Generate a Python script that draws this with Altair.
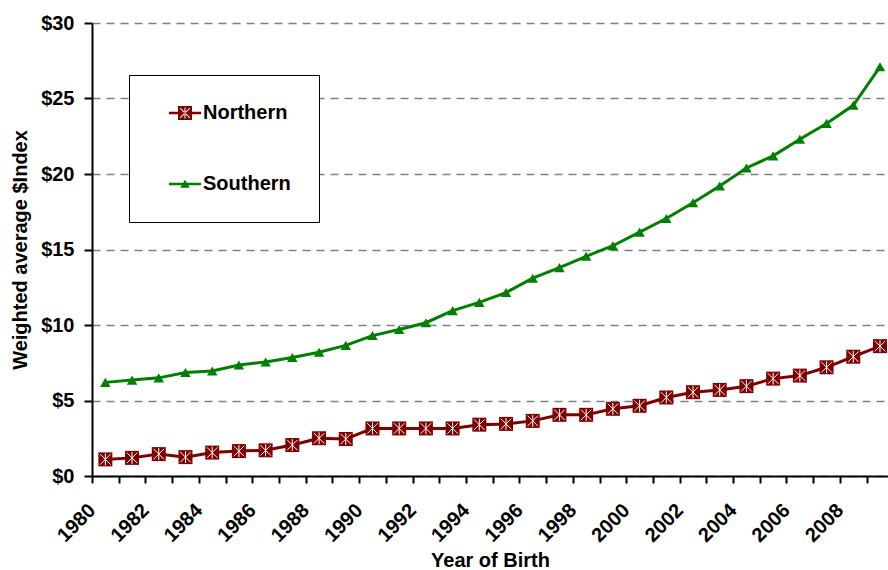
import altair as alt
import pandas as pd

# Birth years on the category axis
years = list(range(1980, 2010))

# Weighted average $Index by year of birth
northern = [1.1, 1.2, 1.45, 1.25, 1.55, 1.65, 1.7, 2.05, 2.5, 2.45,
            3.15, 3.15, 3.15, 3.15, 3.4, 3.45, 3.65, 4.05, 4.05, 4.45,
            4.65, 5.2, 5.55, 5.7, 5.95, 6.45, 6.65, 7.2, 7.9, 8.6]
southern = [6.2, 6.35, 6.5, 6.85, 6.95, 7.35, 7.55, 7.85, 8.2, 8.65,
            9.3, 9.7, 10.15, 10.95, 11.5, 12.15, 13.1, 13.8, 14.55, 15.25,
            16.15, 17.05, 18.1, 19.2, 20.4, 21.2, 22.3, 23.35, 24.55, 27.1]

series_names = ["Northern", "Southern"]
series_colors = ["#800000", "#008000"]
y_ticks = [0, 5, 10, 15, 20, 25, 30]

df = pd.DataFrame({
    "year": years * 2,
    "series": [series_names[0]] * len(years) + [series_names[1]] * len(years),
    "value": northern + southern,
})

FONT = "Liberation Sans"
FS = 20

# Marker glyphs (unit-box SVG paths)
ASTERISK = "M-0.75,-0.75L0.75,0.75M-0.75,0.75L0.75,-0.75M0,-0.85V0.85"
# legend keys: marker with a short line stub on both sides
LEGEND_NORTH = (
    "M-1,-1H1V1H-1Z"
    "M-2.3,-0.18H-1V0.18H-2.3Z"
    "M1,-0.18H2.3V0.18H1Z"
    "M-0.65,-0.75L-0.75,-0.65L0.65,0.75L0.75,0.65Z"
    "M-0.65,0.75L0.75,-0.65L0.65,-0.75L-0.75,0.65Z"
    "M-0.07,-0.8V0.8H0.07V-0.8Z"
)
LEGEND_SOUTH = "M0,-0.6L0.68,0.55H-0.68Z M-2.3,-0.18H2.3V0.18H-2.3Z"

# each year sits in the middle of its category slot
base = alt.Chart(df).transform_calculate(pos="datum.year + 0.5")

x_enc = alt.X(
    "pos:Q",
    scale=alt.Scale(domain=[1980, 2009.8], nice=False, zero=False),
    axis=alt.Axis(
        title="Year of Birth",
        values=years,
        labelExpr="datum.value % 2 == 0 ? datum.value + '' : ''",
        labelAngle=-45,
        labelAlign="right",
        labelBaseline="middle",
        labelPadding=24,
        labelOverlap=False,
        tickSize=7,
        grid=False,
        titleY=90,
        titleBaseline="alphabetic",
    ),
)
y_enc = alt.Y(
    "value:Q",
    scale=alt.Scale(domain=[0, 30], nice=False),
    axis=alt.Axis(
        title="Weighted average $Index",
        values=y_ticks,
        labelExpr="'$' + datum.value",
        labelPadding=10,
        tickSize=8,
        grid=True,
        gridDash=[8, 6],
        gridColor="#808080",
        gridWidth=1.5,
        titleX=-72,
        titleAngle=-90,
        titleAlign="center",
        titleBaseline="middle",
    ),
)

north = base.transform_filter("datum.series == 'Northern'")
south = base.transform_filter("datum.series == 'Southern'")

line_n = north.mark_line(strokeWidth=3, color=series_colors[0]).encode(x=x_enc, y=y_enc)
line_s = south.mark_line(strokeWidth=3, color=series_colors[1]).encode(x=x_enc, y=y_enc)

squares = north.mark_point(
    shape="square", filled=True, size=196, opacity=1, color=series_colors[0]
).encode(x=x_enc, y=y_enc)
stars = north.mark_point(
    shape=ASTERISK, filled=False, size=196, opacity=1, stroke="white", strokeWidth=1
).encode(x=x_enc, y=y_enc)
triangles = south.mark_point(
    shape="triangle-up", filled=True, size=110, opacity=1, color=series_colors[1]
).encode(x=x_enc, y=y_enc)

# legend-only layer: draws nothing, carries the colour + key shapes
legend_layer = base.transform_filter("false").mark_point(
    filled=True, size=196, opacity=1
).encode(
    x=x_enc,
    y=y_enc,
    color=alt.Color(
        "series:N",
        scale=alt.Scale(domain=series_names, range=series_colors),
        legend=alt.Legend(title=None),
    ),
    shape=alt.Shape(
        "series:N",
        scale=alt.Scale(domain=series_names, range=[LEGEND_NORTH, LEGEND_SOUTH]),
        legend=alt.Legend(title=None),
    ),
)

chart = (
    alt.layer(line_n, line_s, squares, stars, triangles, legend_layer)
    .properties(
        width=796,
        height=453,
        autosize=alt.AutoSizeParams(type="none"),
        padding={"left": 92, "top": 23, "right": 0, "bottom": 94},
        background="white",
    )
    .configure_view(stroke=None)
    .configure_axis(
        labelFont=FONT,
        labelFontSize=FS,
        labelFontWeight="bold",
        labelColor="black",
        titleFont=FONT,
        titleFontSize=FS,
        titleFontWeight="bold",
        titleColor="black",
        domainColor="black",
        domainWidth=2,
        tickColor="black",
        tickWidth=2,
    )
    .configure_legend(
        orient="none",
        legendX=37,
        legendY=52,
        padding=28,
        rowPadding=51,
        strokeColor="black",
        fillColor="white",
        labelFont=FONT,
        labelFontSize=FS,
        labelFontWeight="bold",
        labelColor="black",
        symbolSize=196,
        symbolOffset=18,
        labelOffset=8,
        symbolStrokeWidth=0,
    )
)

chart.save("out.html", embed_options={"renderer": "svg", "actions": False})
